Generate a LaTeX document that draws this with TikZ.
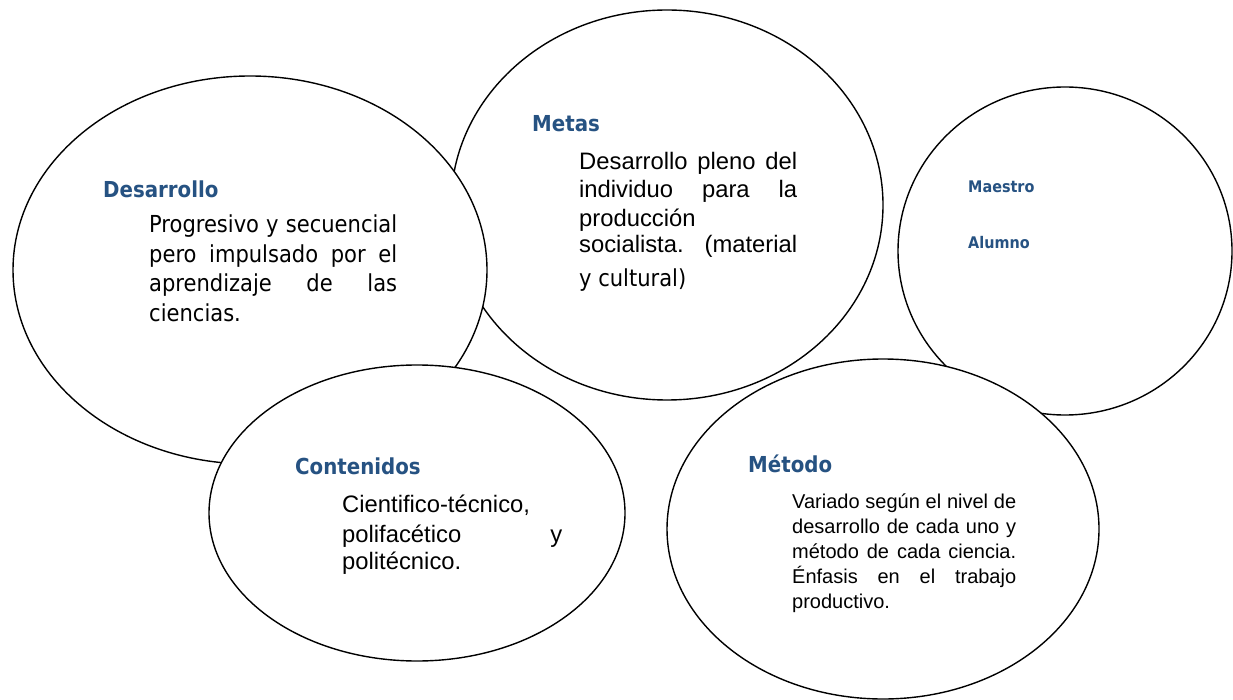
\documentclass[tikz,border=0pt]{standalone}
\usepackage{fontspec}
\setmainfont{Liberation Sans}
\IfFontExistsTF{DejaVu Sans Condensed}{\newfontfamily\tahoma{DejaVu Sans Condensed}}{\newfontfamily\tahoma{DejaVu Sans}}
\usetikzlibrary{shapes.geometric}
\definecolor{titleblue}{RGB}{38,82,130}
\tikzset{
  bubble/.style={ellipse, draw=black, line width=1.4pt, fill=white, inner sep=0pt},
  ttl/.style={anchor=base west, inner sep=0pt, text=titleblue, font=\tahoma\bfseries\fontsize{22}{26}\selectfont},
  smallttl/.style={anchor=base west, inner sep=0pt, text=titleblue, font=\tahoma\bfseries\fontsize{16}{20}\selectfont},
  tline/.style={anchor=base west, inner sep=0pt, font=\tahoma\fontsize{23.4}{28}\selectfont},
  aline/.style={anchor=base west, inner sep=0pt, font=\fontsize{23.8}{28}\selectfont},
  mline/.style={anchor=base west, inner sep=0pt, font=\fontsize{20}{25}\selectfont},
}
\begin{document}
\begin{tikzpicture}[x=1pt,y=-1pt]
\useasboundingbox (0,0) rectangle (1233,700);
% ellipses (drawing order = stacking order)
\node[bubble, minimum width=432pt, minimum height=390pt] (metas) at (667,205) {};
\node[bubble, minimum width=474pt, minimum height=388pt] (desarrollo) at (250,270) {};
\node[bubble, minimum width=416pt, minimum height=296pt] (contenidos) at (417,513) {};
\node[bubble, minimum width=334pt, minimum height=328pt] (roles) at (1065,251) {};
\node[bubble, minimum width=432pt, minimum height=340pt] (metodo) at (883,529) {};

% Desarrollo
\node[ttl] (t1) at (103,198) {Desarrollo};
\node[tline] (d1) at (149,233) {\makebox[248pt][s]{Progresivo y secuencial}};
\node[tline] (d2) at (149,263) {\makebox[248pt][s]{pero impulsado por el}};
\node[tline] (d3) at (149,292) {\makebox[248pt][s]{aprendizaje de las}};
\node[tline] (d4) at (149,322) {ciencias.};

% Metas
\node[ttl] (t2) at (532,132) {Metas};
\node[aline] (m1) at (579,170) {\makebox[218pt][s]{Desarrollo pleno del}};
\node[aline] (m2) at (579,198) {\makebox[218pt][s]{individuo para la}};
\node[aline] (m3) at (579,227) {producción};
\node[aline] (m4) at (579,253) {\makebox[218pt][s]{socialista. (material}};
\node[tline] (m5) at (579,287) {y cultural)};

% Maestro / Alumno
\node[smallttl] (r1) at (968,193) {Maestro};
\node[smallttl] (r2) at (968,249) {Alumno};

% Contenidos
\node[ttl] (t3) at (295,474) {Contenidos};
\node[aline] (c1) at (342,512) {Cientifico-técnico,};
\node[aline] (c2) at (342,542) {\makebox[220pt][s]{polifacético y}};
\node[aline] (c3) at (342,569) {politécnico.};

% Metodo
\node[ttl] (t4) at (748,472) {Método};
\node[mline] (e1) at (792,508) {\makebox[224pt][s]{Variado según el nivel de}};
\node[mline] (e2) at (792,533) {\makebox[224pt][s]{desarrollo de cada uno y}};
\node[mline] (e3) at (792,558) {\makebox[224pt][s]{método de cada ciencia.}};
\node[mline] (e4) at (792,583) {\makebox[224pt][s]{Énfasis en el trabajo}};
\node[mline] (e5) at (792,608) {productivo.};
\end{tikzpicture}
\end{document}
